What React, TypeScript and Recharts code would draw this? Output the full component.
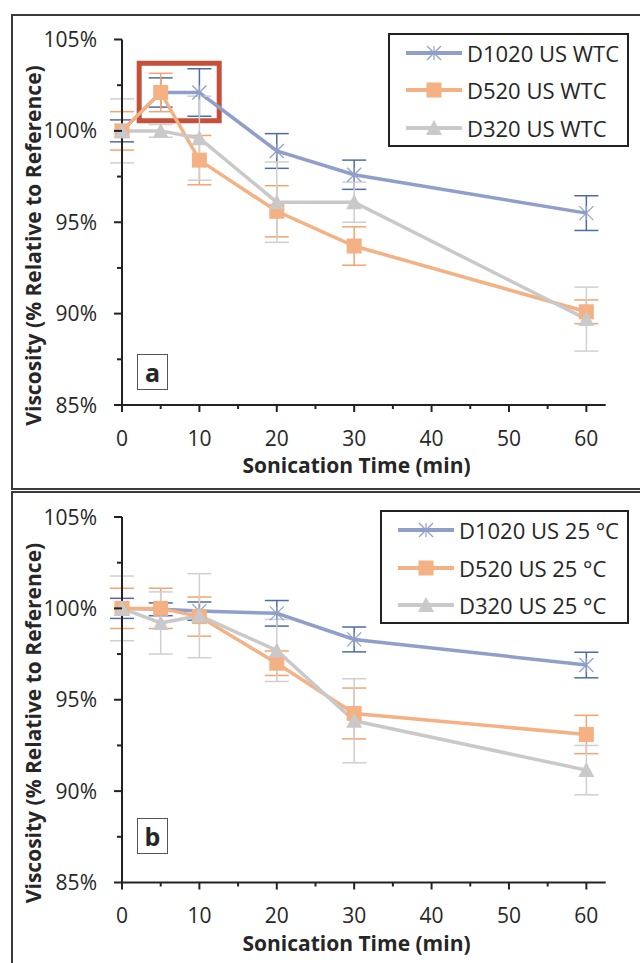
import { ErrorBar, Legend, Line, LineChart, ReferenceArea, XAxis, YAxis } from 'recharts';

const TIME = [0, 5, 10, 20, 30, 60];
const X_TICKS = [0, 5, 10, 15, 20, 25, 30, 35, 40, 45, 50, 55, 60];
const Y_TICKS = [85, 87.5, 90, 92.5, 95, 97.5, 100, 102.5, 105];

// panel a: sonication with water temperature control
const A_NAMES = ['D1020 US WTC', 'D520 US WTC', 'D320 US WTC'];
const A_D1020 = [100, 102.1, 102.1, 98.9, 97.6, 95.5];
const A_D1020_ERR = [0.6, 0.8, 1.3, 0.95, 0.8, 0.95];
const A_D520 = [100, 102.1, 98.4, 95.6, 93.7, 90.1];
const A_D520_ERR = [1.05, 1.05, 1.35, 1.4, 1.05, 0.65];
const A_D320 = [100, 100, 99.6, 96.1, 96.1, 89.7];
const A_D320_ERR = [1.75, 0.35, 2.3, 2.2, 1.1, 1.75];

// panel b: sonication at 25 °C
const B_NAMES = ['D1020 US 25 °C', 'D520 US 25 °C', 'D320 US 25 °C'];
const B_D1020 = [100, 99.95, 99.85, 99.73, 98.3, 96.9];
const B_D1020_ERR = [0.55, 0.35, 0.5, 0.7, 0.68, 0.7];
const B_D520 = [100, 100, 99.55, 97.0, 94.25, 93.1];
const B_D520_ERR = [1.1, 1.1, 1.07, 0.67, 1.39, 1.05];
const B_D320 = [100, 99.2, 99.6, 97.7, 93.85, 91.15];
const B_D320_ERR = [1.77, 1.7, 2.3, 1.7, 2.3, 1.35];

const BLUE = '#8F9FC9';
const BLUE_ERR = '#4F6AA8';
const ORANGE = '#F4B183';
const ORANGE_ERR = '#F2A56E';
const GRAY = '#C9C9C9';
const GRAY_ERR = '#CFCFCF';
const AXIS = '#222';
const TEXT = '#262626';
const FONT = "'Open Sans', sans-serif";

const Y_GAP = 25; // tickSize + tickMargin on the y axis

function buildRows(a: number[], ae: number[], b: number[], be: number[], c: number[], ce: number[]) {
  return TIME.map((t, i) => ({ t, s1: a[i], e1: ae[i], s2: b[i], e2: be[i], s3: c[i], e3: ce[i] }));
}

function Marker({ kind, cx, cy, color }: { kind: string; cx: number; cy: number; color: string }) {
  if (kind === 'star') {
    const r = 7;
    return (
      <g stroke={color} strokeWidth={1.2} fill="none">
        <line x1={cx} y1={cy - r} x2={cx} y2={cy + r} />
        <line x1={cx - r} y1={cy - r} x2={cx + r} y2={cy + r} />
        <line x1={cx - r} y1={cy + r} x2={cx + r} y2={cy - r} />
      </g>
    );
  }
  if (kind === 'square') {
    return <rect x={cx - 7.5} y={cy - 7.5} width={15} height={15} fill={color} />;
  }
  return <polygon points={`${cx},${cy - 8} ${cx + 8},${cy + 7} ${cx - 8},${cy + 7}`} fill={color} />;
}

const SERIES = [
  { key: 's1', err: 'e1', color: BLUE, errColor: BLUE_ERR, kind: 'star' },
  { key: 's2', err: 'e2', color: ORANGE, errColor: ORANGE_ERR, kind: 'square' },
  { key: 's3', err: 'e3', color: GRAY, errColor: GRAY_ERR, kind: 'triangle' },
];

function YTick(props: any) {
  const { x, y, payload } = props;
  const axisX = x + Y_GAP;
  const major = payload.value % 5 === 0;
  return (
    <g>
      <line x1={axisX - (major ? 8 : 5)} x2={axisX} y1={y} y2={y} stroke={AXIS} strokeWidth={2} />
      {major && (
        <text x={x} y={y} dy="0.36em" textAnchor="end" fill={TEXT} fontSize={21} fontFamily={FONT}>
          {payload.value}%
        </text>
      )}
    </g>
  );
}

function XTick(props: any) {
  const { x, y, payload } = props;
  const axisY = y - 8;
  const major = payload.value % 10 === 0;
  return (
    <g>
      <line x1={x} x2={x} y1={axisY} y2={axisY + (major ? 7 : 4)} stroke={AXIS} strokeWidth={2} />
      {major && (
        <text x={x} y={axisY + 33} dy="0.36em" textAnchor="middle" fill={TEXT} fontSize={21} fontFamily={FONT}>
          {payload.value}
        </text>
      )}
    </g>
  );
}

function LegendBox({ names, width }: { names: string[]; width: number }) {
  return (
    <div style={{ width, height: 114, boxSizing: 'border-box', border: `2px solid ${AXIS}`, background: '#fff', position: 'relative' }}>
      {names.map((n, i) => (
        <div key={n} style={{ position: 'absolute', left: 0, top: i * 37.5, height: 36, display: 'flex', alignItems: 'center' }}>
          <svg width={76} height={36} style={{ display: 'block' }}>
            <line x1={16} x2={72} y1={18} y2={18} stroke={SERIES[i].color} strokeWidth={4} />
            <Marker kind={SERIES[i].kind} cx={44} cy={18} color={SERIES[i].color} />
          </svg>
          <span style={{ fontFamily: FONT, fontSize: 22, color: TEXT, whiteSpace: 'nowrap', marginLeft: 1 }}>{n}</span>
        </div>
      ))}
    </div>
  );
}

function Panel({ rows, names, height, top, legendLeft, box }: any) {
  return (
    <LineChart
      width={640}
      height={height}
      data={rows}
      margin={{ top, right: 34.3, left: 0, bottom: 0 }}
    >
      <XAxis
        dataKey="t"
        type="number"
        domain={[0, 62.5]}
        ticks={X_TICKS}
        interval={0}
        height={height - top - 365.5}
        tickSize={8}
        tickMargin={0}
        tickLine={false}
        axisLine={{ stroke: AXIS, strokeWidth: 2 }}
        tick={<XTick />}
        label={() => (
          <text x={356.5} y={top + 365.5 + 68} textAnchor="middle" fill={TEXT} fontSize={21} fontWeight={700} fontFamily={FONT}>
            Sonication Time (min)
          </text>
        )}
      />
      <YAxis
        type="number"
        domain={[85, 105]}
        ticks={Y_TICKS}
        interval={0}
        width={122}
        tickSize={8}
        tickMargin={17}
        tickLine={false}
        axisLine={{ stroke: AXIS, strokeWidth: 2 }}
        tick={<YTick />}
        label={() => (
          <text
            x={33}
            y={top + 206}
            transform={`rotate(-90 33 ${top + 206})`}
            textAnchor="middle"
            dominantBaseline="central"
            fill={TEXT}
            fontSize={21}
            fontWeight={700}
            fontFamily={FONT}
          >
            Viscosity (% Relative to Reference)
          </text>
        )}
      />
      {box && (
        <ReferenceArea x1={2.22} x2={12.56} y1={100.56} y2={103.7} fill="none" stroke="#C4503A" strokeWidth={5} ifOverflow="visible" />
      )}
      {SERIES.map((s, i) => (
        <Line
          key={s.key}
          dataKey={s.key}
          name={names[i]}
          stroke={s.color}
          strokeWidth={3.5}
          isAnimationActive={false}
          dot={(p: any) => <Marker key={`${s.key}-${p.index}`} kind={s.kind} cx={p.cx} cy={p.cy} color={s.color} />}
          activeDot={false}
        >
          <ErrorBar dataKey={s.err} width={12} stroke={s.errColor} strokeWidth={1.5} direction="y" isAnimationActive={false} />
        </Line>
      ))}
      <Legend
        layout="vertical"
        align="center"
        verticalAlign="middle"
        wrapperStyle={{ left: legendLeft, top: top - 7, width: 629 - legendLeft, height: 114 }}
        content={() => <LegendBox names={names} width={629 - legendLeft} />}
      />
    </LineChart>
  );
}

export default function App() {
  const rowsA = buildRows(A_D1020, A_D1020_ERR, A_D520, A_D520_ERR, A_D320, A_D320_ERR);
  const rowsB = buildRows(B_D1020, B_D1020_ERR, B_D520, B_D520_ERR, B_D320, B_D320_ERR);
  const tag = {
    position: 'absolute' as const,
    left: 137,
    width: 31,
    height: 36,
    boxSizing: 'border-box' as const,
    border: '1.5px solid #555',
    background: '#fff',
    fontFamily: FONT,
    fontWeight: 700,
    fontSize: 25,
    color: TEXT,
    display: 'flex',
    alignItems: 'center',
    justifyContent: 'center',
    lineHeight: 1,
  };
  return (
    <div style={{ position: 'absolute', left: 0, top: 0, width: 640, height: 963, overflow: 'hidden', background: '#fff' }}>
      <div style={{ position: 'absolute', left: 11, top: 14, width: 640, height: 476, boxSizing: 'border-box', border: '2px solid #3a3a3a' }} />
      <div style={{ position: 'absolute', left: 11, top: 491, width: 640, height: 480, boxSizing: 'border-box', border: '2px solid #3a3a3a' }} />
      <div style={{ position: 'absolute', left: 0, top: 0 }}>
        <Panel rows={rowsA} names={A_NAMES} height={490} top={39.5} legendLeft={388} box />
      </div>
      <div style={{ position: 'absolute', left: 0, top: 480 }}>
        <Panel rows={rowsB} names={B_NAMES} height={483} top={37} legendLeft={380} box={false} />
      </div>
      <div style={{ ...tag, top: 354 }}>a</div>
      <div style={{ ...tag, top: 818 }}>b</div>
    </div>
  );
}
